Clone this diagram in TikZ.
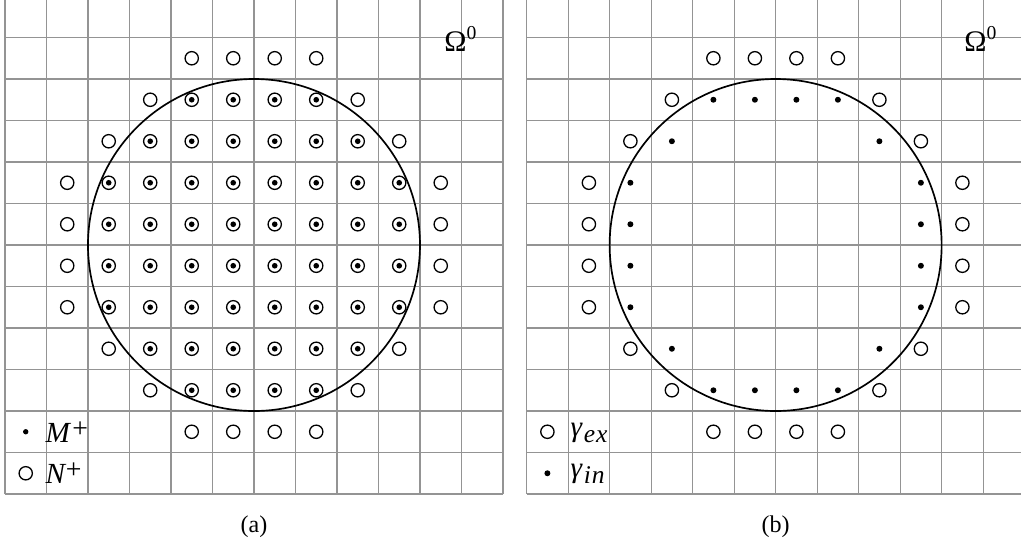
\documentclass[tikz,border=0pt]{standalone}
\usepackage{fontspec}
\setmainfont{Liberation Serif}
\begin{document}
\begin{tikzpicture}[x=1cm,y=1cm,
  gridline/.style={draw=black!42, line width=0.8pt},
  bigcirc/.style={draw=black, line width=1.15pt},
  opencirc/.style={draw=black, line width=0.9pt},
  dotpt/.style={fill=black},
  lbl/.style={inner sep=0pt, anchor=base west},
  caplbl/.style={inner sep=0pt, anchor=base}]
\useasboundingbox (-0.12,-1.253) rectangle (24.482,11.904);
% ---------- panel (a) ----------
\begin{scope}
\draw[gridline] (0,0) grid (12,12);
\draw[bigcirc] (6,6) circle (4);
\foreach \j/\a/\b in {10/4/7, 9/3/8, 8/2/9, 7/1/10, 6/1/10, 5/1/10, 4/1/10, 3/2/9, 2/3/8, 1/4/7}
  \foreach \i in {\a,...,\b}
    \draw[opencirc] (\i+0.5,\j+0.5) circle (0.16);
\foreach \j/\a/\b in {9/4/7, 8/3/8, 7/2/9, 6/2/9, 5/2/9, 4/2/9, 3/3/8, 2/4/7}
  \foreach \i in {\a,...,\b}
    \fill[dotpt] (\i+0.5,\j+0.5) circle (0.068);
\fill[dotpt] (0.5,1.5) circle (0.065);
\draw[opencirc] (0.5,0.5) circle (0.16);
\node[lbl] (Mp) at (0.97,1.23) {\fontsize{20}{20}\selectfont\textit{M}\kern0.8pt\raisebox{3.8pt}{\fontsize{19}{19}\selectfont +}};
\node[lbl] (Np) at (0.97,0.265) {\fontsize{20}{20}\selectfont\textit{N}\kern-0.3pt\raisebox{3.2pt}{\fontsize{19}{19}\selectfont +}};
\node[lbl] (OmA) at (10.58,10.66) {\fontsize{20.5}{21}\selectfont Ω\raisebox{8pt}{\fontsize{13.5}{14}\selectfont 0}};
\node[caplbl] (capA) at (6,-0.916) {\fontsize{16.5}{18}\selectfont (a)};
\end{scope}
% ---------- panel (b) ----------
\begin{scope}[shift={(12.57,0)}]
\draw[gridline] (0,0) grid (12,12);
\draw[bigcirc] (6,6) circle (4);
\foreach \y in {10.5,1.5} \foreach \x in {4.5,5.5,6.5,7.5}
  \draw[opencirc] (\x,\y) circle (0.16);
\foreach \y in {9.5,2.5} \foreach \x in {3.5,8.5}
  \draw[opencirc] (\x,\y) circle (0.16);
\foreach \y in {8.5,3.5} \foreach \x in {2.5,9.5}
  \draw[opencirc] (\x,\y) circle (0.16);
\foreach \y in {7.5,6.5,5.5,4.5} \foreach \x in {1.5,10.5}
  \draw[opencirc] (\x,\y) circle (0.16);
\foreach \y in {9.5,2.5} \foreach \x in {4.5,5.5,6.5,7.5}
  \fill[dotpt] (\x,\y) circle (0.072);
\foreach \y in {8.5,3.5} \foreach \x in {3.5,8.5}
  \fill[dotpt] (\x,\y) circle (0.072);
\foreach \y in {7.5,6.5,5.5,4.5} \foreach \x in {2.5,9.5}
  \fill[dotpt] (\x,\y) circle (0.072);
\draw[opencirc] (0.5,1.5) circle (0.16);
\fill[dotpt] (0.5,0.5) circle (0.072);
\node[lbl] (gex) at (1.05,1.253) {\raisebox{3.5pt}{\fontsize{20}{20}\selectfont\textit{γ}}\kern0.8pt{\fontsize{17.5}{18}\selectfont\textit{e\kern0.6pt x}}};
\node[lbl] (gin) at (1.05,0.265) {\raisebox{3.5pt}{\fontsize{20}{20}\selectfont\textit{γ}}\kern0.8pt{\fontsize{17.5}{18}\selectfont\textit{i\kern0.6pt n}}};
\node[lbl] (OmB) at (10.54,10.66) {\fontsize{20.5}{21}\selectfont Ω\raisebox{8pt}{\fontsize{13.5}{14}\selectfont 0}};
\node[caplbl] (capB) at (6,-0.916) {\fontsize{16.5}{18}\selectfont (b)};
\end{scope}
\end{tikzpicture}
\end{document}
